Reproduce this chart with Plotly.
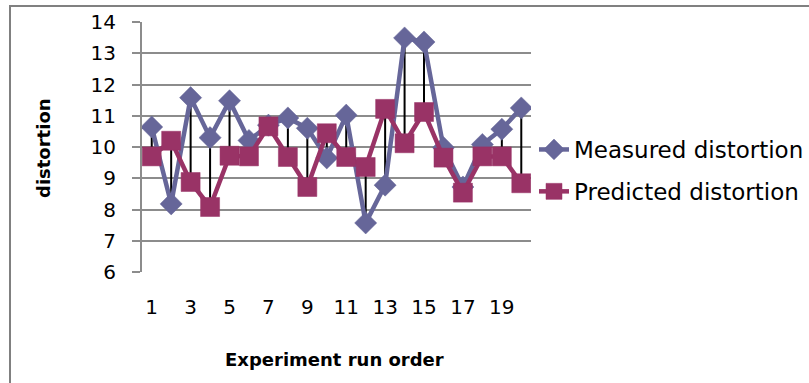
import plotly.graph_objects as go

# Experiment run order (1..20)
runs = list(range(1, 21))

# Measured vs predicted distortion for each run
measured = [10.64, 8.18, 11.58, 10.30, 11.48, 10.21, 10.70, 10.93, 10.60, 9.65,
            11.02, 7.57, 8.78, 13.49, 13.36, 9.98, 8.72, 10.08, 10.57, 11.25]
predicted = [9.70, 10.20, 8.88, 8.08, 9.72, 9.70, 10.66, 9.68, 8.72, 10.44,
             9.68, 9.36, 11.22, 10.12, 11.12, 9.66, 8.54, 9.70, 9.70, 8.84]

y_ticks = list(range(6, 15))
x_ticks = list(range(1, 21, 2))

MEAS_COLOR = "#666699"
PRED_COLOR = "#993366"
GRID = "#8c8c8c"
FONT = "DejaVu Sans"

# plot area in pixels
W, H = 809, 383
L, R, T, B = 142, 531, 22, 272


def px_x(p):
    return (p - L) / (R - L)


def px_y(p):
    return (B - p) / (B - T)


# high-low connectors between the two series
hl_x, hl_y = [], []
for r, m, p in zip(runs, measured, predicted):
    hl_x += [r, r, None]
    hl_y += [min(m, p), max(m, p), None]

fig = go.Figure()
fig.add_trace(go.Scatter(
    x=hl_x, y=hl_y, mode="lines", line=dict(color="black", width=2),
    showlegend=False, hoverinfo="skip"))
fig.add_trace(go.Scatter(
    x=runs, y=measured, mode="lines+markers", name="Measured distortion",
    legendgroup="m",
    line=dict(color=MEAS_COLOR, width=4.5),
    marker=dict(symbol="diamond", size=17, color=MEAS_COLOR,
                line=dict(color=MEAS_COLOR, width=0.5))))
fig.add_trace(go.Scatter(
    x=runs, y=predicted, mode="lines+markers", name="Predicted distortion",
    legendgroup="p",
    line=dict(color=PRED_COLOR, width=4.5),
    marker=dict(symbol="square", size=19, color=PRED_COLOR,
                line=dict(color=PRED_COLOR, width=0.5))))

fig.update_layout(
    width=W, height=H,
    margin=dict(l=L, r=W - R, t=T, b=H - B, autoexpand=False),
    paper_bgcolor="white", plot_bgcolor="white",
    font=dict(family=FONT, color="black"),
    showlegend=True,
    legend=dict(x=px_x(534), y=px_y(128), xanchor="left", yanchor="top",
                font=dict(family=FONT, size=23, color="black"),
                bgcolor="rgba(0,0,0,0)", traceorder="grouped",
                tracegroupgap=9, borderwidth=0),
    xaxis=dict(range=[0.5, 20.5], tickmode="array", tickvals=x_ticks,
               ticktext=[str(v) for v in x_ticks],
               showgrid=False, zeroline=False, showline=False, ticks="",
               tickfont=dict(family=FONT, size=20, color="black"),
               ticklabelstandoff=21, automargin=False),
    yaxis=dict(range=[6, 14], tickmode="array", tickvals=y_ticks,
               showgrid=True, gridcolor=GRID, gridwidth=2, zeroline=False,
               showline=True, linecolor=GRID, linewidth=2,
               ticks="outside", ticklen=8, tickwidth=1.5, tickcolor=GRID,
               tickfont=dict(family=FONT, size=20, color="black"),
               ticklabelstandoff=12, automargin=False),
    shapes=[dict(type="rect", xref="paper", yref="paper",
                 x0=px_x(10), x1=px_x(830), y0=px_y(420), y1=px_y(6),
                 line=dict(color="#808080", width=2), layer="below")],
    annotations=[
        dict(text="<b>Experiment run order</b>", xref="paper", yref="paper",
             x=px_x(334), y=px_y(360), xanchor="center", yanchor="middle",
             showarrow=False, font=dict(family=FONT, size=18, color="black")),
        dict(text="<b>distortion</b>", xref="paper", yref="paper",
             x=px_x(43), y=px_y(148), xanchor="center", yanchor="middle",
             textangle=-90, showarrow=False,
             font=dict(family=FONT, size=18, color="black")),
    ],
)

fig.write_html("out.html")
